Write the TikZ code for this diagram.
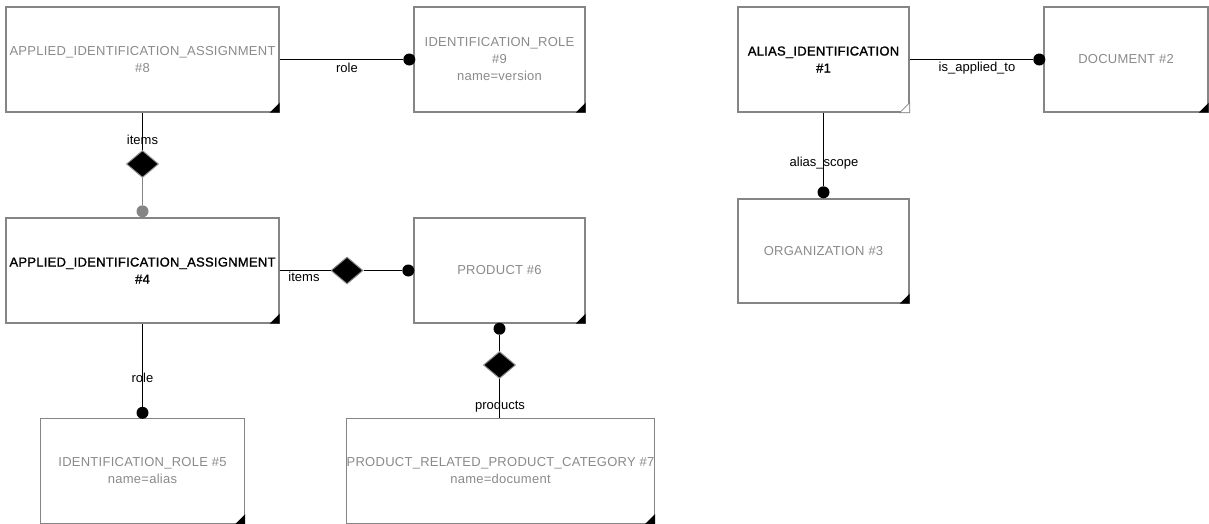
\documentclass[tikz,border=0pt]{standalone}
\usepackage{fontspec}
\setmainfont{Liberation Sans}
\newfontfamily\boxfont{Liberation Sans}[LetterSpace=2]
\newfontfamily\boxboldfont{Liberation Sans}[LetterSpace=2, FakeBold=1.2]
\usepackage{tikz}
\usetikzlibrary{shapes.geometric,positioning}
\definecolor{entgray}{HTML}{8A8A8A}
\definecolor{edgegray}{HTML}{858585}

\begin{document}
\begin{tikzpicture}[
    x=1pt, y=-1pt,
    font=\fontsize{13}{16}\selectfont,
    entity/.style={draw=edgegray, line width=1.4pt, minimum height=105pt, align=center, text=entgray, inner sep=0pt, font=\fontsize{13}{17}\selectfont\boxfont},
    current/.style={text=black, font=\fontsize{13}{17}\selectfont\boxboldfont},
    rel/.style={diamond, draw=black!45, fill=black, line width=1pt, minimum width=32pt, minimum height=27pt, inner sep=0pt},
    dot/.style={circle, fill=black, minimum size=12pt, inner sep=0pt},
    lbl/.style={inner sep=1pt},
    link/.style={line width=1.3pt}
]
\useasboundingbox (0,0) rectangle (1209,523);

\node[entity, minimum width=273pt] (aia8) at (142.5,59.5) {APPLIED\_IDENTIFICATION\_ASSIGNMENT\\\#8};
\node[entity, minimum width=171pt] (ir9) at (499.5,59.5) {IDENTIFICATION\_ROLE\\\#9\\name=version};
\node[entity, minimum width=171pt, current] (ai1) at (823.5,59.5) {ALIAS\_IDENTIFICATION\\\#1};
\node[entity, minimum width=164pt] (doc2) at (1126,59.5) {DOCUMENT \#2};
\node[entity, minimum width=171pt, minimum height=104pt] (org3) at (823.5,251) {ORGANIZATION \#3};
\node[entity, minimum width=273pt, current] (aia4) at (142.5,270.5) {APPLIED\_IDENTIFICATION\_ASSIGNMENT\\\#4};
\node[entity, minimum width=171pt] (prod6) at (499.5,270.5) {PRODUCT \#6};
\node[entity, minimum width=204pt] (ir5) at (142.5,471) {IDENTIFICATION\_ROLE \#5\\name=alias};
\node[entity, minimum width=307pt] (cat7) at (500.5,471) {PRODUCT\_RELATED\_PRODUCT\_CATEGORY \#7\\name=document};

\foreach \b in {aia8, ir9, doc2, org3, aia4, prod6, ir5, cat7}
  \fill (\b.south east) -- ++(-10,0) -- ++(10,-10) -- cycle;
\draw[edgegray, fill=white, line width=0.6pt] (ai1.south east) -- ++(-10,0) -- ++(10,-10) -- cycle;

\node[dot] (d9) at ([xshift=-4pt]ir9.west) {};
\node[dot] (d2) at ([xshift=-4pt]doc2.west) {};
\node[dot] (d3) at ([yshift=6pt]org3.north) {};
\node[dot, fill=edgegray] (d4) at ([yshift=6pt]aia4.north) {};
\node[dot] (d6a) at ([xshift=-5pt]prod6.west) {};
\node[dot] (d6b) at ([yshift=-5pt]prod6.south) {};
\node[dot] (d5) at ([yshift=5pt]ir5.north) {};

\node[rel] (r84) at (142.5,164) {};
\node[rel] (r46) at (347,270.5) {};
\node[rel] (r67) at (499.5,365) {};

\draw[link] (aia8) -- (d9);
\draw[link] (ai1) -- (d2);
\draw[link] (ai1) -- (d3);
\draw[link] (aia8) -- (r84);
\draw[link, edgegray] (r84) -- (d4);
\draw[link] (aia4) -- (r46) -- (d6a);
\draw[link] (aia4) -- (d5);
\draw[link] (d6b) -- (r67) -- (r67 |- cat7.north);

\node[lbl] (l84) at (142.5,140) {items};
\node[lbl] (l89) at (347,68) {role};
\node[lbl] (l46) at (304,277) {items};
\node[lbl] (l45) at (142.5,378) {role};
\node[lbl] (l67) at (500,406) {products};
\node[lbl] (l12) at (977,68) {is\_applied\_to};
\node[lbl] (l13) at (824,163) {alias\_scope};
\end{tikzpicture}
\end{document}
